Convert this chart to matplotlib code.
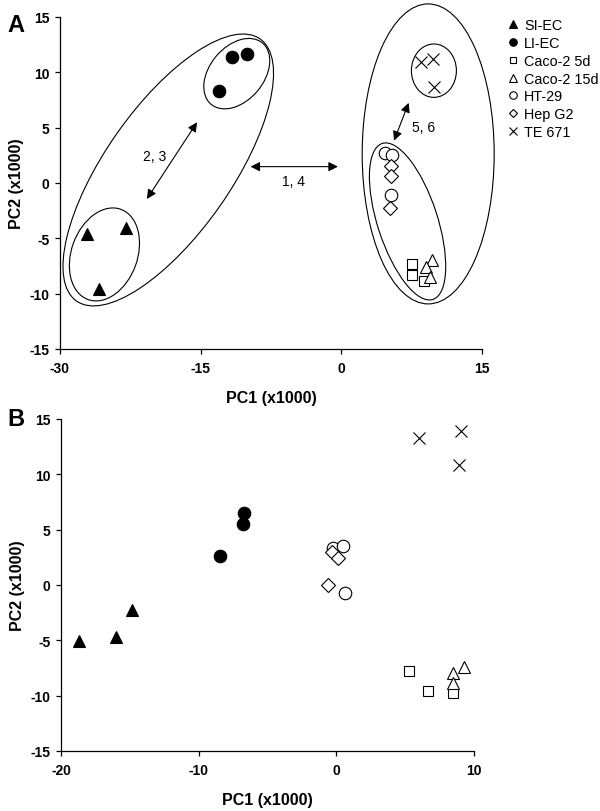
import matplotlib
matplotlib.use("Agg")
from matplotlib import pyplot as plt
from matplotlib.patches import Ellipse
from matplotlib.transforms import ScaledTranslation

plt.rcParams['font.family'] = ['Liberation Sans', 'DejaVu Sans']
plt.rcParams['axes.unicode_minus'] = False

groups = ['SI-EC', 'LI-EC', 'Caco-2 5d', 'Caco-2 15d', 'HT-29', 'Hep G2', 'TE 671']
markers = ['^', 'o', 's', '^', 'o', 'D', 'x']
filled = [True, True, False, False, False, False, False]

# panel A scores
a_pc1 = [[-27.1, -23.0, -25.8],
         [-13.0, -11.6, -10.0],
         [7.6, 7.6, 8.85],
         [9.7, 9.0, 9.45],
         [4.7, 5.4, 5.35],
         [5.35, 5.35, 5.2],
         [8.5, 9.8, 9.9]]
a_pc2 = [[-4.6, -4.1, -9.6],
         [8.3, 11.35, 11.65],
         [-7.3, -8.3, -8.9],
         [-7.0, -7.6, -8.5],
         [2.7, 2.5, -1.1],
         [1.5, 0.6, -2.3],
         [10.9, 11.2, 8.7]]

# panel B scores
b_pc1 = [[-18.67, -16.0, -14.82],
         [-8.45, -6.8, -6.69],
         [5.32, 6.7, 8.47],
         [8.47, 9.32, 8.47],
         [-0.24, 0.48, 0.65],
         [-0.29, 0.12, -0.61],
         [6.05, 9.08, 8.9]]
b_pc2 = [[-5.05, -4.69, -2.26],
         [2.65, 5.48, 6.47],
         [-7.76, -9.62, -9.77],
         [-7.97, -7.37, -8.87],
         [3.37, 3.56, -0.75],
         [2.95, 2.47, 0.0],
         [13.24, 13.9, 10.83]]

# cluster rings on panel A: centre (data), semi axes (px), angle
rings = [(-18.45, 1.17, 160, 63, 55),
         (-25.26, -6.46, 48, 33, 70),
         (-11.14, 9.87, 40, 27, 50),
         (9.28, 2.62, 150, 66, 90),
         (7.08, -3.48, 82, 30, 108),
         (9.89, 10.14, 26.7, 22.5, 90)]

# double arrows: start, end, label, label pos
arrows = [((-15.38, 5.48), (-20.73, -1.45), '2, 3', (-19.9, 2.47)),
          ((-9.68, 1.47), (-0.35, 1.47), '1, 4', (-5.08, 0.18)),
          ((7.2, 7.23), (5.64, 3.82), '5, 6', (8.74, 5.03))]

fig = plt.figure(figsize=(6, 8.12), dpi=100)
axA = fig.add_axes([0.1, 0.569, 0.703, 0.409])
axB = fig.add_axes([0.1017, 0.0739, 0.688, 0.409])


def draw(ax, xs, ys, ms):
    hs = []
    for i in range(len(groups)):
        fc = 'black' if filled[i] else 'white'
        m = markers[i]
        size = ms
        if m == 's':
            size = ms * 0.85
        elif m == 'D':
            size = ms * 0.8
        elif m == 'x':
            size = ms * 0.95
        h, = ax.plot(xs[i], ys[i], linestyle='none', marker=m, markersize=size,
                     markerfacecolor=fc, markeredgecolor='black',
                     markeredgewidth=0.8, label=groups[i], clip_on=False)
        hs.append(h)
    return hs


def style(ax, xt, xlim):
    ax.set_xlim(*xlim)
    ax.set_ylim(-15, 15)
    ax.set_xticks(xt)
    ax.set_yticks([-15, -10, -5, 0, 5, 10, 15])
    for s in ['top', 'right']:
        ax.spines[s].set_visible(False)
    for s in ['left', 'bottom']:
        ax.spines[s].set_linewidth(0.9)
    ax.tick_params(direction='out', length=3.6, width=0.9, labelsize=10)
    ax.tick_params(axis='x', pad=5)
    ax.tick_params(axis='y', pad=4)
    for lab in ax.get_xticklabels() + ax.get_yticklabels():
        lab.set_fontweight('bold')
    ax.set_xlabel('PC1 (x1000)', fontsize=11.5, fontweight='bold', labelpad=11)
    ax.set_ylabel('PC2 (x1000)', fontsize=11.5, fontweight='bold', labelpad=4)


hsA = draw(axA, a_pc1, a_pc2, 9)
draw(axB, b_pc1, b_pc2, 9)
style(axA, [-30, -15, 0, 15], (-30, 15))
style(axB, [-20, -10, 0, 10], (-20, 10))

for cx, cy, a, b, ang in rings:
    tr = fig.dpi_scale_trans + ScaledTranslation(cx, cy, axA.transData)
    axA.add_patch(Ellipse((0, 0), 2 * a / 100, 2 * b / 100, angle=ang,
                          transform=tr, fill=False, ec='black', lw=0.8,
                          clip_on=False))

for p0, p1, txt, tp in arrows:
    axA.annotate('', xy=p1, xytext=p0,
                 arrowprops=dict(arrowstyle='<|-|>', color='black', lw=0.8,
                                 mutation_scale=14, shrinkA=0, shrinkB=0))
    axA.text(tp[0], tp[1], txt, fontsize=10, ha='center', va='center')

leg = axA.legend(handles=hsA, loc='upper left', bbox_to_anchor=(0.835, 0.985),
                 bbox_transform=fig.transFigure, frameon=False, fontsize=10.4,
                 markerscale=0.6, handlelength=0.6, handletextpad=0.5,
                 labelspacing=0.26, borderpad=0)

fig.text(0.013, 0.969, 'A', fontsize=17, fontweight='bold', va='center')
fig.text(0.012, 0.483, 'B', fontsize=17, fontweight='bold', va='center')

fig.savefig('out.png', dpi=100)
